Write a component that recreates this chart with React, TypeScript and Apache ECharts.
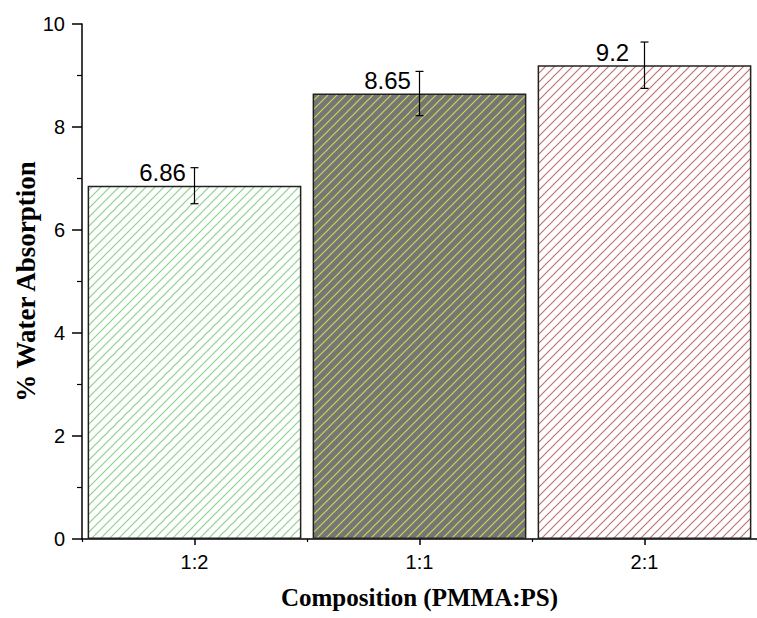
import React, { useEffect, useRef } from 'react';
import * as echarts from 'echarts';

const categories = ['1:2', '1:1', '2:1'];
const values = [6.86, 8.65, 9.2];
const errors = [0.35, 0.43, 0.45];
const yMin = 0;
const yMax = 10;
const yInterval = 2;

const hatchStyles = [
  { bg: '#ffffff', line: '#8fd08f' },
  { bg: '#767676', line: '#ccd84e' },
  { bg: '#ffffff', line: '#c07474' },
];

function makeHatch(bg: string, line: string, size = 9): string {
  const c = document.createElement('canvas');
  c.width = size;
  c.height = size;
  const ctx = c.getContext('2d')!;
  ctx.fillStyle = bg;
  ctx.fillRect(0, 0, size, size);
  ctx.strokeStyle = line;
  ctx.lineWidth = 1.2;
  ctx.beginPath();
  ctx.moveTo(-1, size + 1);
  ctx.lineTo(size + 1, -1);
  ctx.moveTo(-2, 2);
  ctx.lineTo(2, -2);
  ctx.moveTo(size - 2, size + 2);
  ctx.lineTo(size + 2, size - 2);
  ctx.stroke();
  return c.toDataURL();
}

export default function App() {
  const ref = useRef<HTMLDivElement>(null);
  useEffect(() => {
    document.body.style.margin = '0';
    if (!ref.current) return;
    const chart = echarts.init(ref.current, undefined, { renderer: 'svg' });
    const barData = values.map((v, i) => ({
      value: v,
      itemStyle: {
        color: {
          image: makeHatch(hatchStyles[i].bg, hatchStyles[i].line),
          repeat: 'repeat',
          imageWidth: 9,
          imageHeight: 9,
        } as any,
        borderColor: '#222',
        borderWidth: 1.5,
      },
    }));
    const errData = values.map((v, i) => [i, v - errors[i], v + errors[i]]);
    chart.setOption({
      animation: false,
      backgroundColor: '#ffffff',
      grid: { left: 82, right: -9, top: 24, bottom: 79, containLabel: false },
      xAxis: [
        {
          type: 'category',
          data: categories,
          position: 'bottom',
          name: 'Composition (PMMA:PS)',
          nameLocation: 'middle',
          nameGap: 46,
          nameMoveOverlap: false,
          nameTextStyle: {
            fontFamily: 'Liberation Serif',
            fontWeight: 'bold',
            fontSize: 25,
            color: '#000',
          },
          axisLine: { show: true, lineStyle: { color: '#000', width: 1.5 } },
          axisTick: { show: true, alignWithLabel: true, length: 6, lineStyle: { color: '#000', width: 1.5 } },
          axisLabel: { fontFamily: 'Liberation Sans', fontSize: 20, color: '#000', margin: 13 },
          splitLine: { show: false },
        },
        {
          type: 'category',
          data: categories,
          position: 'bottom',
          axisLine: { show: false },
          axisTick: { show: true, alignWithLabel: false, length: 3, lineStyle: { color: '#000', width: 1.2 } },
          axisLabel: { show: false },
          splitLine: { show: false },
        },
      ],
      yAxis: {
        type: 'value',
        min: yMin,
        max: yMax,
        interval: yInterval,
        name: '% Water Absorption',
        nameLocation: 'middle',
        nameGap: 43,
        nameMoveOverlap: false,
        nameTextStyle: {
          fontFamily: 'Liberation Serif',
          fontWeight: 'bold',
          fontSize: 27,
          color: '#000',
        },
        axisLine: { show: true, lineStyle: { color: '#000', width: 1.5 } },
        axisTick: { show: true, length: 10, lineStyle: { color: '#000', width: 1.5 } },
        minorTick: { show: true, splitNumber: 2, length: 5, lineStyle: { color: '#000', width: 1.2 } },
        axisLabel: { fontFamily: 'Liberation Sans', fontSize: 20, color: '#000', margin: 17 },
        splitLine: { show: false },
      },
      series: [
        {
          type: 'bar',
          data: barData,
          barWidth: '95%',
          label: {
            show: true,
            position: 'top',
            distance: 1,
            offset: [-32, 0],
            fontFamily: 'Liberation Sans',
            fontSize: 24,
            color: '#000',
            formatter: (p: any) => String(p.value),
          },
        },
        {
          type: 'custom',
          z: 10,
          data: errData,
          renderItem: (params: any, api: any) => {
            const x = api.value(0);
            const lo = api.coord([x, api.value(1)]);
            const hi = api.coord([x, api.value(2)]);
            const half = 4;
            const style = { stroke: '#000', lineWidth: 1.2 };
            return {
              type: 'group',
              children: [
                { type: 'line', shape: { x1: lo[0], y1: lo[1], x2: hi[0], y2: hi[1] }, style },
                { type: 'line', shape: { x1: hi[0] - half, y1: hi[1], x2: hi[0] + half, y2: hi[1] }, style },
                { type: 'line', shape: { x1: lo[0] - half, y1: lo[1], x2: lo[0] + half, y2: lo[1] }, style },
              ],
            };
          },
        },
      ],
    });
    return () => chart.dispose();
  }, []);
  return <div ref={ref} style={{ width: 757, height: 618 }} />;
}
